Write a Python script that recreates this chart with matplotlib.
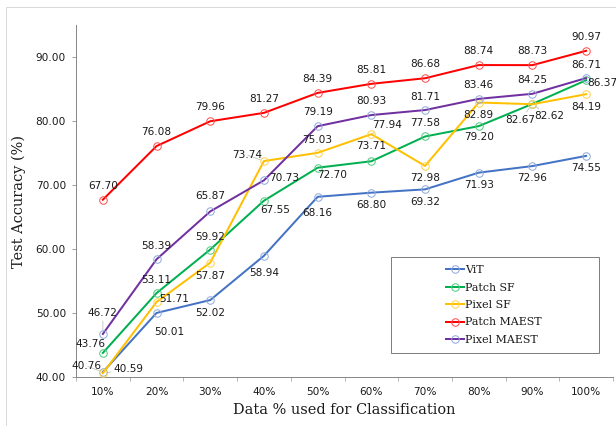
import matplotlib
matplotlib.use("Agg")
import matplotlib.pyplot as plt
from matplotlib.patches import Rectangle

categories = ["10%", "20%", "30%", "40%", "50%", "60%", "70%", "80%", "90%", "100%"]
vit = [40.76, 50.01, 52.02, 58.94, 68.16, 68.80, 69.32, 71.93, 72.96, 74.55]
patch_sf = [43.76, 53.11, 59.92, 67.55, 72.70, 73.71, 77.58, 79.20, 82.67, 86.37]
pixel_sf = [40.59, 51.71, 57.87, 73.74, 75.03, 77.94, 72.98, 82.89, 82.62, 84.19]
patch_maest = [67.70, 76.08, 79.96, 81.27, 84.39, 85.81, 86.68, 88.74, 88.73, 90.97]
pixel_maest = [46.72, 58.39, 65.87, 70.73, 79.19, 80.93, 81.71, 83.46, 84.25, 86.71]
series_names = ["ViT", "Patch SF", "Pixel SF", "Patch MAEST", "Pixel MAEST"]
yticks = [40, 50, 60, 70, 80, 90]

series = [vit, patch_sf, pixel_sf, patch_maest, pixel_maest]
line_colors = ["#4472C4", "#00B050", "#FFC000", "#FF0000", "#7030A0"]
marker_colors = ["#8FAADC", "#4FC97F", "#FFD24D", "#FF4D4D", "#8FAADC"]

# label offsets in px (dx, dy up)
offsets = [
    [(-16, 6), (13, -19), (0, -13), (0, -17), (0, -16), (0, -12), (0, -13), (0, -12), (0, -12), (0, -12)],
    [(-12, 9), (0, 13), (0, 13), (11, -9), (15, -7), (0, 15), (0, 13), (0, -11), (-12, -16), (16, -3)],
    [(26, 4), (18, 3), (0, -13), (-17, 6), (0, 13), (16, 9), (0, -12), (0, -12), (17, -12), (0, -13)],
    [(0, 14)] * 10,
    [(0, 21), (0, 13), (0, 15), (20, 2), (0, 14), (0, 14), (0, 13), (0, 14), (0, 14), (0, 13)],
]
leaders = {(0, 0), (2, 0), (2, 3), (2, 5), (1, 8), (2, 8), (4, 0)}

W, H = 616, 426
fig = plt.figure(figsize=(W / 72, H / 72), dpi=72)
fig.patch.set_facecolor("white")
fig.patches.append(Rectangle((6 / W, -0.1), 1.2, 1 - 7 / H + 0.1, transform=fig.transFigure,
                             fill=False, edgecolor="#D9D9D9", lw=1))
ax = fig.add_axes([76 / W, 1 - 377 / H, (613 - 76) / W, (377 - 25) / H])

num_font = ["Liberation Sans Narrow", "DejaVu Sans"]
x = list(range(len(categories)))
for i, (vals, name) in enumerate(zip(series, series_names)):
    ax.plot(x, vals, color=line_colors[i], lw=2, marker="o", markersize=7.5,
            markerfacecolor="none", markeredgecolor=marker_colors[i], markeredgewidth=1,
            label=name, zorder=3)
    for j, v in enumerate(vals):
        dx, dy = offsets[i][j]
        kw = {}
        if (i, j) in leaders:
            kw["arrowprops"] = dict(arrowstyle="-", color="#BFBFBF", lw=0.8, shrinkA=1, shrinkB=4)
        ax.annotate(f"{v:.2f}", (j, v), xytext=(dx, dy), textcoords="offset points",
                    ha="center", va="center", fontsize=10.5, color="#1A1A1A",
                    family=num_font, zorder=4, **kw)

ax.set_xlim(-0.5, len(categories) - 0.5)
ax.set_ylim(40, 95)
ax.set_yticks(yticks)
ax.set_yticklabels([f"{t:.2f}" for t in yticks], family=num_font, fontsize=10.5, color="#1A1A1A")
ax.set_xticks(x)
ax.set_xticklabels(categories, family=num_font, fontsize=10.5, color="#1A1A1A")
ax.set_xticks([k - 0.5 for k in range(len(categories) + 1)], minor=True)
ax.tick_params(axis="x", which="major", length=0, pad=10)
ax.tick_params(axis="x", which="minor", length=4, color="#898989", direction="out")
ax.tick_params(axis="y", length=4, color="#898989", direction="out", pad=6)
for s in ["top", "right"]:
    ax.spines[s].set_visible(False)
for s in ["left", "bottom"]:
    ax.spines[s].set_color("#898989")
    ax.spines[s].set_linewidth(1)

ax.set_xlabel("Data % used for Classification", family="DejaVu Serif", fontsize=14.5,
              color="#1A1A1A", labelpad=6)
ax.set_ylabel("Test Accuracy (%)", family="DejaVu Serif", fontsize=14.5,
              color="#1A1A1A", labelpad=10)

# legend box
fig.patches.append(Rectangle((391 / W, 1 - 353 / H), (599 - 391) / W, (353 - 257) / H,
                             transform=fig.transFigure, facecolor="white",
                             edgecolor="#7F7F7F", lw=1, zorder=5))
leg = fig.legend(loc="center", bbox_to_anchor=(494 / W, 1 - 305 / H), frameon=False,
                 prop={"family": "DejaVu Serif", "size": 11}, handlelength=1.6,
                 handletextpad=0.1, labelspacing=0.68, borderpad=0)
leg.set_zorder(6)
for t in leg.get_texts():
    t.set_color("#1A1A1A")

fig.savefig("out.png", dpi=72)
